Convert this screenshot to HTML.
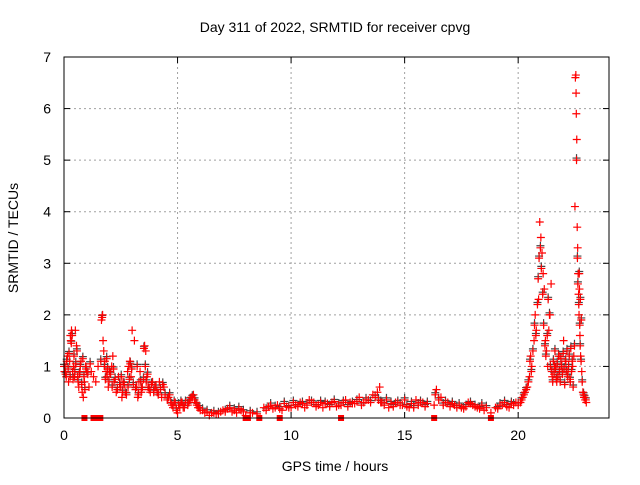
<!DOCTYPE html>
<html><head><meta charset="utf-8"><style>
body{margin:0;background:#fff;font-family:"Liberation Sans",sans-serif}
svg text{font-family:"Liberation Sans",sans-serif;font-size:14px;fill:#000}
</style></head><body>
<svg id="c" width="640" height="480">
<rect width="640" height="480" fill="#fff"/>
<text x="335" y="32" text-anchor="middle">Day 311 of 2022, SRMTID for receiver cpvg</text>
<text x="335" y="471" text-anchor="middle">GPS time / hours</text>
<text transform="translate(18,238) rotate(-90)" text-anchor="middle">SRMTID / TECUs</text>
<g id="grid"></g><g id="ticks"></g><g id="marks"></g>
<rect x="64" y="57" width="545" height="361" fill="none" stroke="#000"/>
</svg>
<script>
const xTicks=[0,5,10,15,20];
const yTicks=[0,1,2,3,4,5,6,7];
const hours=[0.02,0.05,0.1,0.15,0.2,0.25,0.28,0.3,0.33,0.38,0.42,0.46,0.5,0.55,0.6,0.65,0.7,0.75,0.8,0.85,0.9,0.95,1.0,1.1,1.2,1.3,1.4,1.5,
1.65,1.7,1.72,1.75,1.8,1.85,1.9,1.95,2.0,2.1,2.15,2.2,2.3,2.4,2.5,2.55,2.6,2.7,2.8,2.85,2.9,2.95,3.0,3.1,3.2,3.25,3.3,3.35,3.4,3.45,
3.55,3.6,3.65,3.7,3.8,3.9,4.0,4.1,4.2,4.3,4.4,4.6,4.7,4.8,4.9,5.0,5.1,5.2,5.3,5.5,5.6,5.7,5.8,5.9,6.0,6.2,6.4,6.5,6.7,6.9,
7.0,7.2,7.4,7.6,7.8,8.0,8.3,8.8,9.0,9.2,9.4,9.6,9.8,10.0,10.2,10.4,10.6,10.8,11.0,11.2,11.4,11.6,11.8,12.0,12.2,12.4,12.6,12.8,13.0,13.2,13.4,13.6,13.8,13.9,
14.0,14.3,14.6,14.9,15.2,15.5,15.8,16.3,16.4,16.6,16.9,17.2,17.5,17.8,18.0,18.2,18.5,18.8,19.0,19.3,19.6,19.9,
20.1,20.2,20.3,20.4,20.5,20.55,20.6,20.7,20.75,20.8,20.9,20.95,21.0,21.05,21.1,21.15,21.2,21.25,21.3,21.35,21.4,21.45,
21.5,21.6,21.7,21.8,21.9,22.0,22.1,22.2,22.3,22.4,22.45,22.5,22.52,22.54,22.55,22.56,22.58,22.6,22.62,22.64,22.66,22.68,22.7,22.72,22.75,22.8,22.85,22.9,22.95,23.0];
const values=[0.9,1.0,0.8,1.2,0.7,1.1,1.6,1.5,1.7,0.9,1.0,0.8,1.7,1.4,0.8,0.6,0.9,1.1,0.5,0.4,0.7,1.0,0.9,0.6,0.9,0.8,0.7,1.0,
1.9,2.0,1.5,1.3,1.1,0.9,0.8,0.6,0.9,1.0,1.2,0.7,0.5,0.8,0.6,0.4,0.7,0.5,0.9,1.0,1.1,0.8,1.7,1.5,0.6,0.4,0.7,0.9,0.5,0.6,
1.4,1.3,0.8,0.6,0.5,0.7,0.6,0.5,0.7,0.4,0.6,0.4,0.3,0.2,0.3,0.1,0.2,0.3,0.2,0.3,0.4,0.45,0.3,0.2,0.15,0.1,0.05,0.1,0.08,0.12,
0.15,0.18,0.12,0.1,0.15,0.05,0.1,0.2,0.22,0.18,0.25,0.15,0.22,0.2,0.25,0.3,0.2,0.35,0.3,0.25,0.2,0.28,0.3,0.22,0.25,0.35,0.3,0.28,0.4,0.3,0.35,0.45,0.5,0.6,
0.3,0.2,0.3,0.25,0.2,0.35,0.3,0.25,0.55,0.4,0.3,0.25,0.2,0.3,0.25,0.2,0.15,0.1,0.2,0.25,0.2,0.3,
0.3,0.4,0.5,0.6,0.8,1.2,1.0,1.5,2.0,1.7,2.3,3.8,3.5,3.2,2.8,2.5,1.5,1.3,1.0,1.7,2.0,2.6,
0.8,1.0,0.7,1.2,1.0,1.5,1.1,0.9,0.7,1.0,1.2,4.1,6.6,6.65,6.3,5.9,5.4,3.7,3.3,2.8,2.4,2.0,2.5,1.6,1.2,0.9,0.5,0.4,0.35,0.3];
// second satellite arc set (denser coverage)
const hours2=[0.0,0.07,0.12,0.18,0.22,0.27,0.32,0.36,0.4,0.44,0.48,0.52,0.57,0.62,0.68,0.72,0.78,0.83,0.88,0.92,0.97,1.05,1.15,
1.62,1.68,1.78,1.82,1.88,1.92,1.98,2.05,2.12,2.18,2.25,2.35,2.45,2.52,2.58,2.65,2.75,2.82,2.88,2.92,2.98,3.05,3.15,3.22,3.28,3.38,3.42,3.5,
3.52,3.58,3.62,3.68,3.75,3.85,3.95,4.05,4.15,4.25,4.35,4.45,4.55,4.65,4.75,4.85,4.95,5.05,5.15,5.25,5.35,5.45,5.55,5.65,5.75,5.85,5.95,6.1,6.3,6.6,6.8,
7.1,7.3,7.5,7.7,7.9,8.2,8.5,8.9,9.1,9.3,9.5,9.7,9.9,10.1,10.3,10.5,10.7,10.9,11.1,11.3,11.5,11.7,11.9,12.1,12.3,12.5,12.7,12.9,13.1,13.3,13.5,13.7,13.85,13.95,
14.1,14.2,14.4,14.5,14.7,14.8,15.0,15.1,15.3,15.4,15.6,15.7,15.9,16.0,16.35,16.5,16.7,16.8,17.0,17.1,17.3,17.4,17.6,17.7,17.9,18.1,18.3,18.4,18.6,19.1,19.2,19.4,19.5,19.7,19.8,
20.0,20.15,20.25,20.35,20.45,20.52,20.58,20.65,20.72,20.78,20.85,20.88,20.92,20.98,21.02,21.08,21.12,21.18,21.22,21.28,21.32,21.38,21.42,21.48,
21.52,21.55,21.58,21.62,21.65,21.68,21.72,21.75,21.78,21.82,21.85,21.88,21.92,21.95,21.98,22.02,22.05,22.08,22.12,22.15,22.18,22.22,22.25,22.28,22.32,22.35,22.38,22.42,22.48,
22.57,22.61,22.63,22.67,22.69,22.71,22.73,22.74,22.77,22.78,22.82,22.88,22.92,22.98];
const values2=[1.0,0.85,1.1,0.95,1.25,0.8,1.45,1.6,0.75,1.2,0.9,1.05,1.3,0.7,0.85,1.0,0.65,1.15,0.8,0.55,0.95,0.85,1.05,
1.1,1.95,1.0,0.75,1.15,0.95,0.7,0.85,0.6,0.95,0.75,0.55,0.65,0.8,0.5,0.65,0.45,0.6,0.75,1.05,0.95,0.65,0.55,1.0,0.45,0.7,0.55,0.75,
1.35,1.0,0.7,0.85,0.55,0.65,0.5,0.6,0.45,0.55,0.65,0.45,0.35,0.45,0.25,0.3,0.15,0.25,0.3,0.2,0.3,0.25,0.35,0.4,0.35,0.25,0.2,0.15,0.12,0.1,0.08,
0.12,0.2,0.15,0.18,0.12,0.1,0.08,0.15,0.25,0.2,0.18,0.28,0.2,0.3,0.22,0.28,0.25,0.3,0.22,0.3,0.28,0.22,0.32,0.25,0.3,0.22,0.28,0.32,0.25,0.35,0.3,0.4,0.35,0.3,
0.25,0.35,0.28,0.22,0.3,0.25,0.35,0.22,0.28,0.2,0.25,0.3,0.22,0.28,0.45,0.35,0.25,0.3,0.22,0.28,0.2,0.25,0.18,0.22,0.28,0.22,0.18,0.25,0.2,0.18,0.25,0.3,0.22,0.28,0.25,
0.25,0.35,0.45,0.55,0.7,1.1,0.9,1.3,1.8,1.6,2.2,2.7,3.1,3.3,2.9,2.4,1.8,1.4,1.2,1.6,2.3,2.0,1.0,0.9,
0.7,1.1,0.85,1.3,0.95,0.75,1.05,0.8,1.2,0.9,0.7,1.15,1.0,0.85,1.25,0.95,0.65,1.1,0.9,1.3,0.8,1.0,1.2,0.75,1.35,0.9,1.1,0.6,1.4,
5.0,3.1,2.6,2.2,2.8,1.8,1.4,2.3,1.1,1.9,0.7,0.45,0.4,0.35];
const zeroHours=[0.9,1.3,1.4,1.5,1.6,8.0,8.1,8.6,9.5,12.2,16.3,18.8];
const X=h=>64+h*(545/24), Y=v=>418-v*(361/7);
const ns="http://www.w3.org/2000/svg";
function mk(t,a,p){const e=document.createElementNS(ns,t);for(const k in a)e.setAttribute(k,a[k]);p.appendChild(e);return e;}
const grid=document.getElementById('grid'),ticks=document.getElementById('ticks'),marks=document.getElementById('marks');
xTicks.forEach(t=>{const x=X(t);
 if(t>0){const g=mk('line',{x1:x,x2:x,y1:57,y2:418,stroke:'#a0a0a0','stroke-dasharray':'2,3'},grid);
 
 }
 mk('line',{x1:x,x2:x,y1:418,y2:412,stroke:'#000'},ticks);mk('line',{x1:x,x2:x,y1:57,y2:63,stroke:'#000'},ticks);
 const l=mk('text',{x:x,y:440,'text-anchor':'middle'},ticks);l.textContent=t;
 
 });
yTicks.forEach(t=>{const y=Y(t);
 if(t>0&&t<7){const g=mk('line',{x1:64,x2:609,y1:y,y2:y,stroke:'#a0a0a0','stroke-dasharray':'2,3'},grid);
 
 }
 mk('line',{x1:64,x2:70,y1:y,y2:y,stroke:'#000'},ticks);mk('line',{x1:603,x2:609,y1:y,y2:y,stroke:'#000'},ticks);
 const l=mk('text',{x:51,y:y+5,'text-anchor':'end'},ticks);l.textContent=t;
 
 });
function plot(hs,vs,col){hs.forEach((h,i)=>{const x=X(h),y=Y(vs[i]);
 const p=mk('path',{d:`M${x-4},${y}h8M${x},${y-4}v8`,stroke:col,'stroke-width':1.2},marks);
 
 });}
plot(hours2,values2.map(v=>v+0.04),'#444');
plot(hours,values,'#f00');
plot(hours2,values2,'#f00');
zeroHours.forEach(h=>{const r=mk('rect',{x:X(h)-3,y:415,width:6,height:6,fill:'#f00'},marks);
 
 });
</script>
</body></html>
